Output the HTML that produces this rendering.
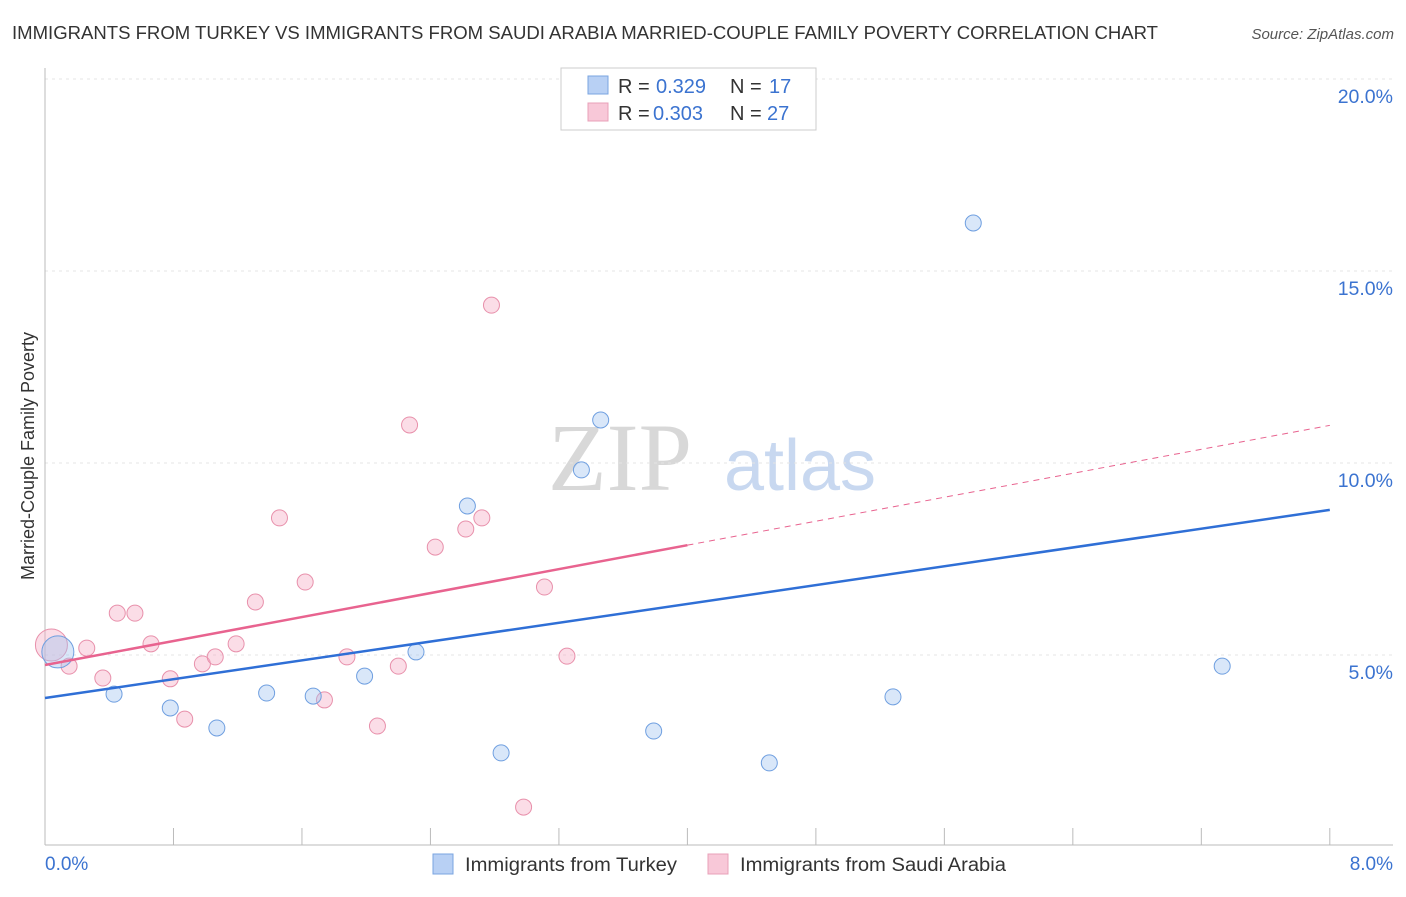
<!DOCTYPE html>
<html><head><meta charset="utf-8"><style>
body{margin:0;background:#fff;font-family:"Liberation Sans",sans-serif}
svg text{font-family:"Liberation Sans",sans-serif}
</style></head><body>
<svg width="1406" height="892" id="c">
<text x="12" y="39" font-size="18" fill="#333" textLength="1146" lengthAdjust="spacingAndGlyphs">IMMIGRANTS FROM TURKEY VS IMMIGRANTS FROM SAUDI ARABIA MARRIED-COUPLE FAMILY POVERTY CORRELATION CHART</text>
<text x="1394" y="39" font-size="15" fill="#555" font-style="italic" text-anchor="end">Source: ZipAtlas.com</text>
<text x="0" y="0" transform="translate(34,456) rotate(-90)" font-size="18" fill="#333" text-anchor="middle">Married-Couple Family Poverty</text>
<text x="620" y="490" font-size="96" fill="#d8d8d8" text-anchor="middle" style="font-family:'Liberation Serif',serif">ZIP</text>
<text x="800" y="490" font-size="72" fill="#c8d8f0" text-anchor="middle">atlas</text>
<g id="grid"></g><g id="marks"></g>
<g>
<rect x="561" y="68" width="255" height="62" fill="#fff" stroke="#ccc"/>
<rect x="588" y="76" width="20" height="18" fill="#b8d0f4" stroke="#7aa4e0"/>
<text x="618" y="93" font-size="20" fill="#333">R =</text>
<text x="656" y="93" font-size="20" fill="#3b73d0">0.329</text>
<text x="730" y="93" font-size="20" fill="#333">N =</text>
<text x="769" y="93" font-size="20" fill="#3b73d0">17</text>
<rect x="588" y="103" width="20" height="18" fill="#f8c8d8" stroke="#e8a0b8"/>
<text x="618" y="120" font-size="20" fill="#333">R =</text>
<text x="653" y="120" font-size="20" fill="#3b73d0">0.303</text>
<text x="730" y="120" font-size="20" fill="#333">N =</text>
<text x="767" y="120" font-size="20" fill="#3b73d0">27</text>
</g>
<g>
<rect x="433" y="854" width="20" height="20" fill="#b8d0f4" stroke="#7aa4e0"/>
<text x="465" y="871" font-size="19" fill="#333" textLength="212" lengthAdjust="spacingAndGlyphs">Immigrants from Turkey</text>
<rect x="708" y="854" width="20" height="20" fill="#f8c8d8" stroke="#e8a0b8"/>
<text x="740" y="871" font-size="19" fill="#333" textLength="266" lengthAdjust="spacingAndGlyphs">Immigrants from Saudi Arabia</text>
</g>
</svg>
<script>
const turkeyX=[0.08,0.43,0.78,1.07,1.38,1.67,1.99,2.31,2.63,2.84,3.34,3.46,3.79,4.51,5.28,5.78,7.33];
const turkeyY=[5.08,3.98,3.62,3.10,4.01,3.93,4.45,5.08,8.88,2.45,9.82,11.12,3.02,2.19,3.91,16.25,4.71];
const saudiX=[0.04,0.15,0.26,0.36,0.45,0.56,0.66,0.78,0.87,0.98,1.06,1.19,1.31,1.46,1.62,1.74,1.88,2.07,2.20,2.27,2.43,2.62,2.72,2.78,2.98,3.11,3.25];
const saudiY=[5.26,4.71,5.18,4.40,6.09,6.09,5.29,4.38,3.33,4.77,4.95,5.29,6.38,8.57,6.90,3.83,4.95,3.15,4.71,10.99,7.81,8.28,8.57,14.11,1.04,6.77,4.97];
const turkeyTrend=[3.88,8.78];
const saudiTrend=[4.74,10.98];
const yTicks=[5,10,15,20];
const xTickLabels=["0.0%","8.0%"];
const NS="http://www.w3.org/2000/svg";
const X=v=>45+v*160.6, Y=v=>847-v*38.4;
function mk(t,a,p){const e=document.createElementNS(NS,t);for(const k in a)e.setAttribute(k,a[k]);p.appendChild(e);return e;}
const g=document.getElementById('grid'), m=document.getElementById('marks');
yTicks.forEach(t=>{
 const l=mk('line',{x1:45,x2:1393,y1:Y(t),y2:Y(t),stroke:'#e4e4e4','stroke-dasharray':'3,4'},g);
 
 
 const tx=mk('text',{x:1393,y:Y(t)+24,'font-size':19.5,fill:'#3b73d0','text-anchor':'end'},g);tx.textContent=t.toFixed(1)+'%';
 
 
});
mk('line',{x1:45,x2:45,y1:68,y2:845,stroke:'#bbb'},g);
mk('line',{x1:45,x2:1393,y1:845,y2:845,stroke:'#bbb'},g);
for(let i=0;i<=10;i++){const l=mk('line',{x1:X(i*0.8),x2:X(i*0.8),y1:828,y2:845,stroke:'#bbb'},g);
 
 }
const xl0=mk('text',{x:45,y:870,'font-size':19,fill:'#3b73d0'},g);xl0.textContent=xTickLabels[0];


const xl1=mk('text',{x:1393,y:870,'font-size':19,fill:'#3b73d0','text-anchor':'end'},g);xl1.textContent=xTickLabels[1];


saudiX.forEach((x,i)=>{const c=mk('circle',{cx:X(x),cy:Y(saudiY[i]),r:i==0?16:8,fill:'rgba(245,170,195,0.4)',stroke:'#e890ab','stroke-width':1},m);
 
 });
turkeyX.forEach((x,i)=>{const c=mk('circle',{cx:X(x),cy:Y(turkeyY[i]),r:i==0?16:8,fill:'rgba(160,195,240,0.4)',stroke:'#6f9fe0','stroke-width':1},m);
 
 });
const tl=mk('line',{x1:X(0),y1:Y(turkeyTrend[0]),x2:X(8),y2:Y(turkeyTrend[1]),stroke:'#2f6fd6','stroke-width':2.5},m);


const sm=v=>saudiTrend[0]+(saudiTrend[1]-saudiTrend[0])*v/8;
const sl=mk('line',{x1:X(0),y1:Y(sm(0)),x2:X(4),y2:Y(sm(4)),stroke:'#e8638f','stroke-width':2.5},m);


const sd=mk('line',{x1:X(4),y1:Y(sm(4)),x2:X(8),y2:Y(sm(8)),stroke:'#e8638f','stroke-width':1,'stroke-dasharray':'6,5'},m);


</script>
</body></html>
